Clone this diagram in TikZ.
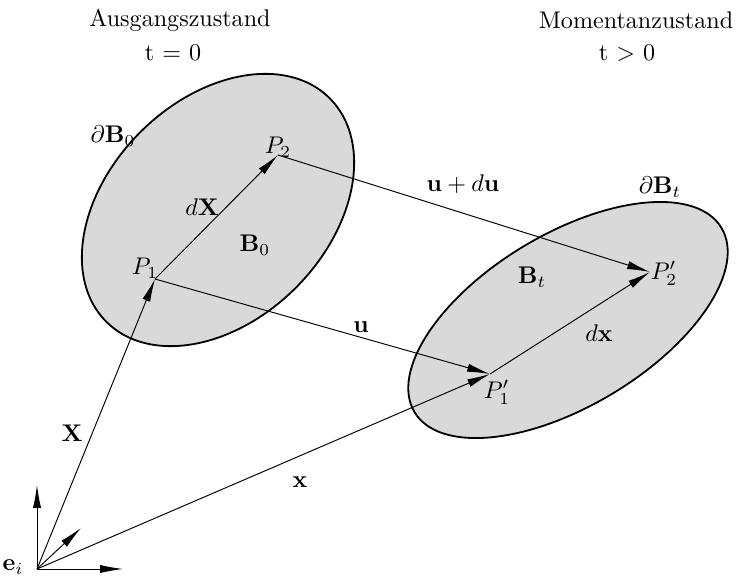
\documentclass[tikz,border=0pt]{standalone}
\usepackage{amsmath,amssymb}
\usetikzlibrary{arrows.meta}

\begin{document}
\begin{tikzpicture}[x=0.415pt,y=-0.415pt,
  vec/.style={-{Latex[length=9.5pt,width=3.4pt]}},
  body/.style={draw,line width=0.75pt,fill=gray!30}]
\useasboundingbox (0,0) rectangle (737,581);
% the two configurations
\draw[body,rotate around={45:(218,210)}] (218,210) ellipse [x radius=158,y radius=110];
\draw[body,rotate around={31:(568,320)}] (568,320) ellipse [x radius=179,y radius=86];
% points
\coordinate (O) at (37,569);
\coordinate (P1) at (155,279);
\coordinate (P2) at (278,155);
\coordinate (Q1) at (490,374);
\coordinate (Q2) at (650,272);
% base vectors
\coordinate (E1) at (123,569);
\coordinate (E2) at (37,485);
\coordinate (E3) at (81,528);
\foreach \e in {E1,E2,E3}
  \draw[vec] (O) -- (\e);
% vectors
\draw[vec] (O) -- (P1);
\draw[vec] (O) -- (Q1);
\draw[vec] (P1) -- (P2);
\draw[vec] (Q1) -- (Q2);
\draw[vec] (P1) -- (Q1);
\draw[vec] (P2) -- (Q2);
% labels
\node (ausg) at (180,20) {Ausgangszustand};
\node (t0) at (173,53) {t $=$ 0};
\node (mom) at (636,20) {Momentanzustand};
\node (t1) at (627,53) {t $>$ 0};
\node (dB0) at (113,136) {$\partial\mathbf{B}_0$};
\node (dBt) at (660,187) {$\partial\mathbf{B}_t$};
\node (B0) at (255,245) {$\mathbf{B}_0$};
\node (Bt) at (532,277) {$\mathbf{B}_t$};
\node (lP1) at (145,268) {$P_1$};
\node (lP2) at (278,147) {$P_2$};
\node (lQ1) at (497,392) {$P_1'$};
\node (lQ2) at (664,273) {$P_2'$};
\node (ldX) at (202,207) {$d\mathbf{X}$};
\node (ldx) at (599,333) {$d\mathbf{x}$};
\node (lu) at (361,327) {$\mathbf{u}$};
\node (ludu) at (463,184) {$\mathbf{u}+d\mathbf{u}$};
\node (lX) at (72,433) {$\mathbf{X}$};
\node (lx) at (300,482) {$\mathbf{x}$};
\node (le) at (13,567) {$\mathbf{e}_i$};
\end{tikzpicture}
\end{document}
